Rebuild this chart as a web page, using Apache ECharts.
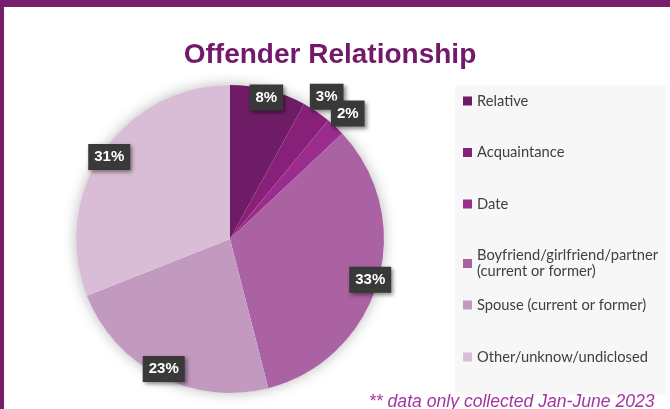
<!DOCTYPE html>
<html>
<head>
<meta charset="utf-8">
<script src="https://cdn.jsdelivr.net/npm/echarts@6/dist/echarts.min.js"></script>
<style>
  html, body { margin: 0; padding: 0; background: #fff; }
  #chart { width: 670px; height: 409px; }
</style>
</head>
<body>
<div id="chart"></div>
<script>
// offender relationship share, %
var categories = [
  "Relative",
  "Acquaintance",
  "Date",
  "Boyfriend/girlfriend/partner\n(current or former)",
  "Spouse (current or former)",
  "Other/unknow/undiclosed"
];
var values = [8, 3, 2, 33, 23, 31];
var colors = ["#6f1c66", "#862079", "#9c2b8e", "#aa62a2", "#c299bf", "#d9bdd6"];

var PURPLE = "#761f6b";

var chart = echarts.init(document.getElementById("chart"));

var labelBox = {
  position: "inside",
  formatter: "{c}%",
  color: "#fff",
  fontFamily: "Liberation Sans",
  fontWeight: "bold",
  fontSize: 15,
  backgroundColor: "#393939",
  padding: [6, 6, 5, 6],
  shadowColor: "rgba(0,0,0,0.45)",
  shadowBlur: 4,
  shadowOffsetX: 2,
  shadowOffsetY: 2
};

function labelData(small) {
  return categories.map(function (name, i) {
    var isSmall = values[i] < 5;
    return {
      name: name,
      value: values[i],
      label: { show: isSmall === small }
    };
  });
}

var overlayBase = {
  type: "pie",
  center: [230, 239],
  silent: true,
  avoidLabelOverlap: false,
  itemStyle: { color: "rgba(0,0,0,0)" },
  labelLine: { show: false },
  labelLayout: { hideOverlap: false },
  label: labelBox,
  animation: false,
  z: 5
};

var legendText = { color: "#404040", fontFamily: "Lato", fontSize: 14.7, lineHeight: 16 };

chart.setOption({
  backgroundColor: "#ffffff",
  color: colors,
  title: {
    text: "Offender Relationship",
    left: 325,
    textAlign: "center",
    top: 36,
    textStyle: {
      color: "#72196a",
      fontFamily: "Liberation Sans",
      fontWeight: "bold",
      fontSize: 28
    }
  },
  graphic: [
    { type: "rect", left: 0, top: 0, shape: { width: 670, height: 7 }, style: { fill: PURPLE }, z: 0 },
    { type: "rect", left: 0, top: 0, shape: { width: 4, height: 409 }, style: { fill: PURPLE }, z: 0 },
    { type: "rect", left: 455, top: 85, shape: { width: 211, height: 310 }, style: { fill: "#f7f7f7" }, z: 0 },
    {
      type: "text",
      left: 369,
      top: 393,
      style: {
        text: "** data only collected Jan-June 2023",
        fill: "#a3369f",
        font: "italic 17.6px Liberation Sans"
      },
      z: 10
    }
  ],
  legend: [
    {
      orient: "vertical",
      left: 463,
      top: 93,
      padding: 0,
      itemGap: 35.5,
      itemWidth: 9,
      itemHeight: 9,
      icon: "rect",
      data: categories.slice(0, 4),
      textStyle: legendText
    },
    {
      orient: "vertical",
      left: 463,
      top: 297,
      padding: 0,
      itemGap: 36,
      itemWidth: 9,
      itemHeight: 9,
      icon: "rect",
      data: categories.slice(4),
      textStyle: legendText
    }
  ],
  series: [
    {
      // soft shadow under the whole pie
      type: "pie",
      center: [230, 239],
      radius: 154,
      silent: true,
      label: { show: false },
      itemStyle: { color: "#ffffff", shadowBlur: 14, shadowColor: "rgba(0,0,0,0.28)" },
      data: [{ value: 1, name: "" }],
      animation: false,
      z: 1
    },
    {
      type: "pie",
      center: [230, 239],
      radius: 154,
      startAngle: 90,
      clockwise: true,
      avoidLabelOverlap: false,
      label: { show: false },
      labelLine: { show: false },
      data: categories.map(function (name, i) {
        return { name: name, value: values[i] };
      }),
      animation: false,
      z: 2
    },
    Object.assign({}, overlayBase, { radius: [124, 162], data: labelData(false) }),
    Object.assign({}, overlayBase, { radius: [152, 186], data: labelData(true) })
  ]
});
</script>
</body>
</html>
